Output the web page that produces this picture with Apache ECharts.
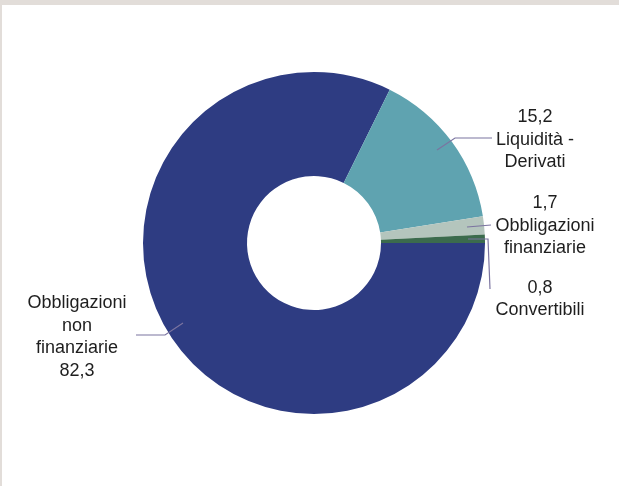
<!DOCTYPE html>
<html>
<head>
<meta charset="utf-8">
<script src="https://cdn.jsdelivr.net/npm/echarts@6/dist/echarts.min.js"></script>
<style>
  html, body { margin: 0; padding: 0; background: #e2ddd9; }
  #chart { position: absolute; left: 2px; top: 5px; width: 617px; height: 481px; background: #fff; }
</style>
</head>
<body>
<div id="chart"></div>
<script>
// dati (%)
var categories = ['Obbligazioni\nnon\nfinanziarie', 'Liquidità -\nDerivati', 'Obbligazioni\nfinanziarie', 'Convertibili']
var values = [82.3, 15.2, 1.7, 0.8]
var colors = ['#2e3c82', '#5fa3b0', '#b4c5bd', '#3b6b4d']

// posizione etichette (coordinate del grafico)
var labelPos = [
  { x: 75, y: 332, lines: [[134, 330], [163, 330], [181, 318]], valueFirst: false },
  { x: 533, y: 135, lines: [[435, 145], [453, 133], [490, 133]], valueFirst: true },
  { x: 543, y: 221, lines: [[465, 222], [477, 221], [489, 220]], valueFirst: true },
  { x: 538, y: 294, lines: [[466, 234], [486, 234], [488, 284]], valueFirst: true },
]

function fmt(v) {
  return v.toFixed(1).replace('.', ',')
}

var myChart = echarts.init(document.getElementById('chart'))
myChart.setOption({
  animation: false,
  series: [
    {
      // settori
      type: 'pie',
      z: 2,
      center: [312, 238],
      radius: [67, 171],
      startAngle: 0,
      clockwise: true,
      data: categories.map(function (c, i) {
        return { name: c, value: values[i], itemStyle: { color: colors[i] } }
      }),
      label: { show: false },
      labelLine: { show: false },
      emphasis: { disabled: true },
    },
    {
      // etichette sopra i settori
      type: 'pie',
      z: 3,
      silent: true,
      center: [312, 238],
      radius: [67, 171],
      startAngle: 0,
      clockwise: true,
      data: categories.map(function (c, i) {
        return { name: c, value: values[i] }
      }),
      itemStyle: { color: 'rgba(0,0,0,0)' },
      label: {
        show: true,
        position: 'outside',
        fontFamily: 'Liberation Sans',
        fontSize: 18,
        lineHeight: 22.5,
        color: '#1e1e1e',
        align: 'center',
        overflow: 'none',
        formatter: function (p) {
          if (labelPos[p.dataIndex].valueFirst) {
            return fmt(p.value) + '\n' + p.name
          }
          return p.name + '\n' + fmt(p.value)
        },
      },
      labelLine: {
        show: true,
        lineStyle: { color: '#7b74a0', width: 1.2 },
      },
      labelLayout: function (params) {
        var lp = labelPos[params.dataIndex]
        return {
          x: lp.x,
          y: lp.y,
          align: 'center',
          verticalAlign: 'middle',
          labelLinePoints: lp.lines,
        }
      },
      emphasis: { disabled: true },
    },
  ],
})
</script>
</body>
</html>
